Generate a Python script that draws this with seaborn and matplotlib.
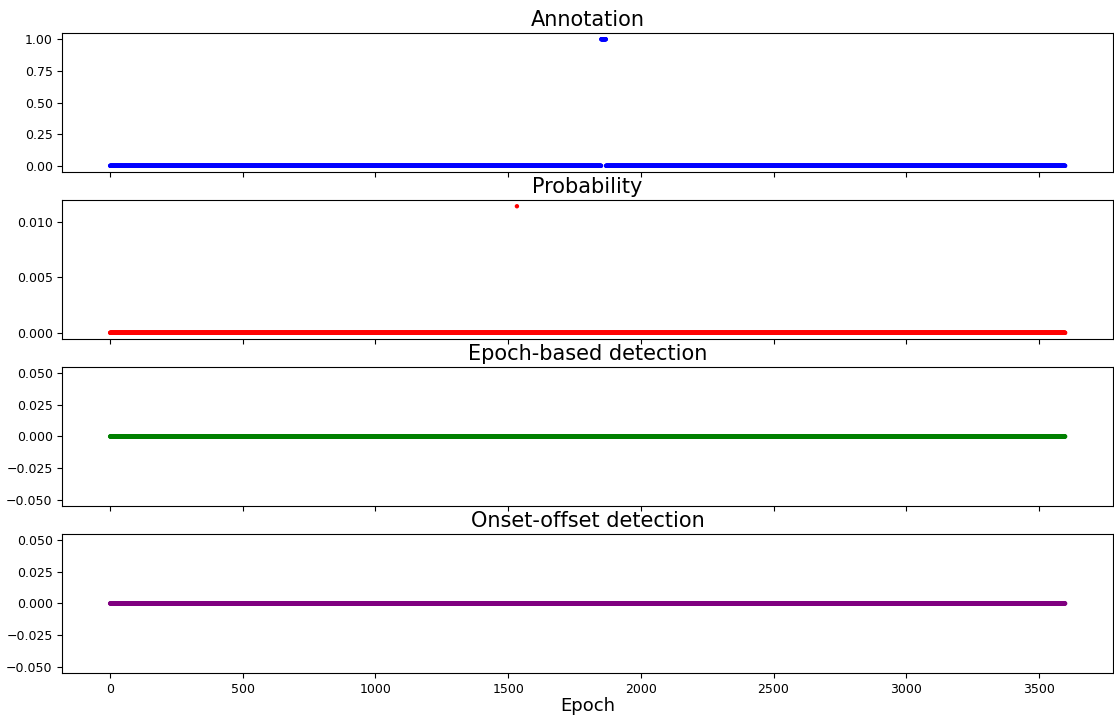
import numpy as np
import pandas as pd
import matplotlib
matplotlib.use("Agg")
import matplotlib.pyplot as plt
import seaborn as sns

# Recording length and event positions (in epochs)
n_epochs = 3600
seizure_start = 1851
seizure_end = 1869          # exclusive
prob_peak_epoch = 1533
prob_peak_value = 0.0114

epochs = np.arange(n_epochs)

annotation = np.zeros(n_epochs)
annotation[seizure_start:seizure_end] = 1.0

probability = np.zeros(n_epochs)
probability[prob_peak_epoch] = prob_peak_value

epoch_detection = np.zeros(n_epochs)
onset_offset_detection = np.zeros(n_epochs)

titles = ["Annotation", "Probability", "Epoch-based detection", "Onset-offset detection"]
series = [annotation, probability, epoch_detection, onset_offset_detection]
colors = ["blue", "red", "green", "purple"]

plt.rcParams["font.family"] = ["DejaVu Sans"]
fig, axes = plt.subplots(4, 1, figsize=(11.14, 7.16), dpi=100, sharex=True)
fig.subplots_adjust(left=0.056, right=0.999, top=0.954, bottom=0.06, hspace=0.2)

for ax, title, values, color in zip(axes, titles, series, colors):
    df = pd.DataFrame({"Epoch": epochs, "value": values})
    sns.scatterplot(data=df, x="Epoch", y="value", ax=ax, color=color,
                    s=10, linewidth=0, edgecolor="none")
    ax.set_title(title, fontsize=15, pad=5)
    ax.set_ylabel("")
    ax.set_xlabel("")
    ax.tick_params(labelsize=9)

axes[0].set_yticks([0, 0.25, 0.5, 0.75, 1.0])
axes[1].set_yticks([0, 0.005, 0.01])
axes[-1].set_xlabel("Epoch", fontsize=13, labelpad=1)
axes[-1].set_xticks([0, 500, 1000, 1500, 2000, 2500, 3000, 3500])

fig.savefig("out.png", dpi=100)
